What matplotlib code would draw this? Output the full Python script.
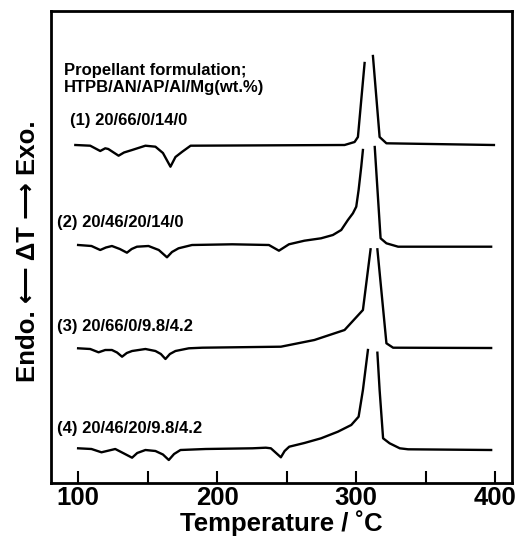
import numpy as np
import matplotlib
matplotlib.use("Agg")
import matplotlib.pyplot as plt
from matplotlib.ticker import MultipleLocator

plt.rcParams['font.family'] = ['Liberation Sans', 'DejaVu Sans']

# DTA traces: temperature (deg C) and deviation from baseline
# (arbitrary units, exo up). NaN marks the open peak top.
t1 = [98, 108.7, 115.9, 119.5, 121.7, 125, 129.1, 133, 138.8, 148.4, 155.6, 161, 166.4,
      170, 174.9, 180.9, 291.6, 298.8, 301.2, 306, np.nan, 312, 316.8, 321.7, 399]
d1 = [0, -0.7, -6, -3.3, -4, -7, -10.7, -7.5, -5, -0.7, -1.7, -8, -21.7,
      -12, -6.7, -0.7, 0, 3, 8, 82, np.nan, 89, 8, 1.7, 0]

t2 = [100, 109.6, 115.9, 120, 124.3, 130, 135.1, 138.5, 142.3, 150.6, 158, 163.9, 167.5, 172.2,
      181.9, 210.8, 237.2, 244.4, 251.6, 262.7, 274.7, 283.2, 289.2, 294, 297.6, 300,
      301.7, 303.6, 304.8, np.nan, 313.3, 317.5, 321.7, 330.1, 397]
d2 = [1, 0, -4, -1.5, 0, -3, -6.7, -3, -0.7, 0, -4, -11.3, -6, -2.3,
      1, 1.7, 1, -4.7, 1.7, 5.3, 7.7, 11, 16, 26, 32.7, 39.3,
      56, 79.3, 96, np.nan, 99, 7.7, 2.7, -0.7, -0.7]

t3 = [100, 108.7, 114.7, 119.5, 124.3, 128, 131.6, 135, 138.8, 148.4, 155.6, 159.5, 162.8,
      166, 170, 179.6, 189.3, 245.8, 269.9, 291.6, 304.8, 310.3, np.nan, 315.2, 321.7,
      326.5, 397]
d3 = [-0.3, -1, -4.3, -2, -2, -4.5, -8.7, -5, -3, -1, -3, -6, -11,
      -6, -3, -0.3, 0.3, 1.3, 8, 18, 38, 98.7, np.nan, 98.7, 4.7,
      0.3, 0]

t4 = [100, 109.6, 116.8, 126.7, 133, 138.8, 142.5, 148.4, 155.6, 161, 165.2, 169, 173.6,
      191.7, 225.4, 235, 238.6, 245.8, 248.5, 251.8, 262.7, 274.7, 286.8, 296.4, 301.7,
      304.8, 308.4, np.nan, 315.2, 316.8, 319.3, 324, 331.3, 337.3, 397]
d4 = [1.7, 1, -2.3, 1, -3.5, -7.7, -3, 0, -1, -4.5, -10, -4, 0,
      1, 1.7, 2.3, 1.7, -7.3, -1, 3.3, 7, 11.7, 18.3, 25, 33.3,
      60, 100, np.nan, 97.3, 60, 11.7, 6.7, 1.7, 0.7, 0]

labels = ["(1) 20/66/0/14/0", "(2) 20/46/20/14/0",
          "(3) 20/66/0/9.8/4.2", "(4) 20/46/20/9.8/4.2"]

# vertical stacking of the traces
offsets = [338, 237, 135, 33]
label_y = [363, 260, 156, 55]

fig = plt.figure(figsize=(5.17, 5.48), dpi=100)
ax = fig.add_axes([51 / 517, 65 / 548, 461 / 517, 472 / 548])

for t, d, off in zip([t1, t2, t3, t4], [d1, d2, d3, d4], offsets):
    ax.plot(t, np.array(d) + off, color="black", lw=1.7, solid_joinstyle="round")

ax.text(90, 404, "Propellant formulation;\nHTPB/AN/AP/Al/Mg(wt.%)",
        fontsize=12, fontweight="bold", va="center", linespacing=1.2)
ax.text(94, label_y[0], labels[0], fontsize=12, fontweight="bold", va="center")
for lab, y in zip(labels[1:], label_y[1:]):
    ax.text(85, y, lab, fontsize=12, fontweight="bold", va="center")

ax.set_xlim(80.5, 412)
ax.set_ylim(0, 472)
ax.set_yticks([])
ax.xaxis.set_major_locator(MultipleLocator(100))
ax.xaxis.set_minor_locator(MultipleLocator(50))
ax.tick_params(axis="x", which="both", direction="in", length=9, width=1.5,
               labelsize=18.5, pad=2)
for lab in ax.get_xticklabels():
    lab.set_fontweight("bold")
for s in ax.spines.values():
    s.set_linewidth(2)

ax.set_xlabel("Temperature / \u02daC", fontsize=18.5, fontweight="bold", labelpad=0)
fig.text(28 / 517, 1 - 251 / 548, "Endo. \u27f5 \u0394T \u27f6 Exo.",
         rotation=90, fontsize=18.5, fontweight="bold", ha="center", va="center")

fig.savefig("out.png", dpi=100)
